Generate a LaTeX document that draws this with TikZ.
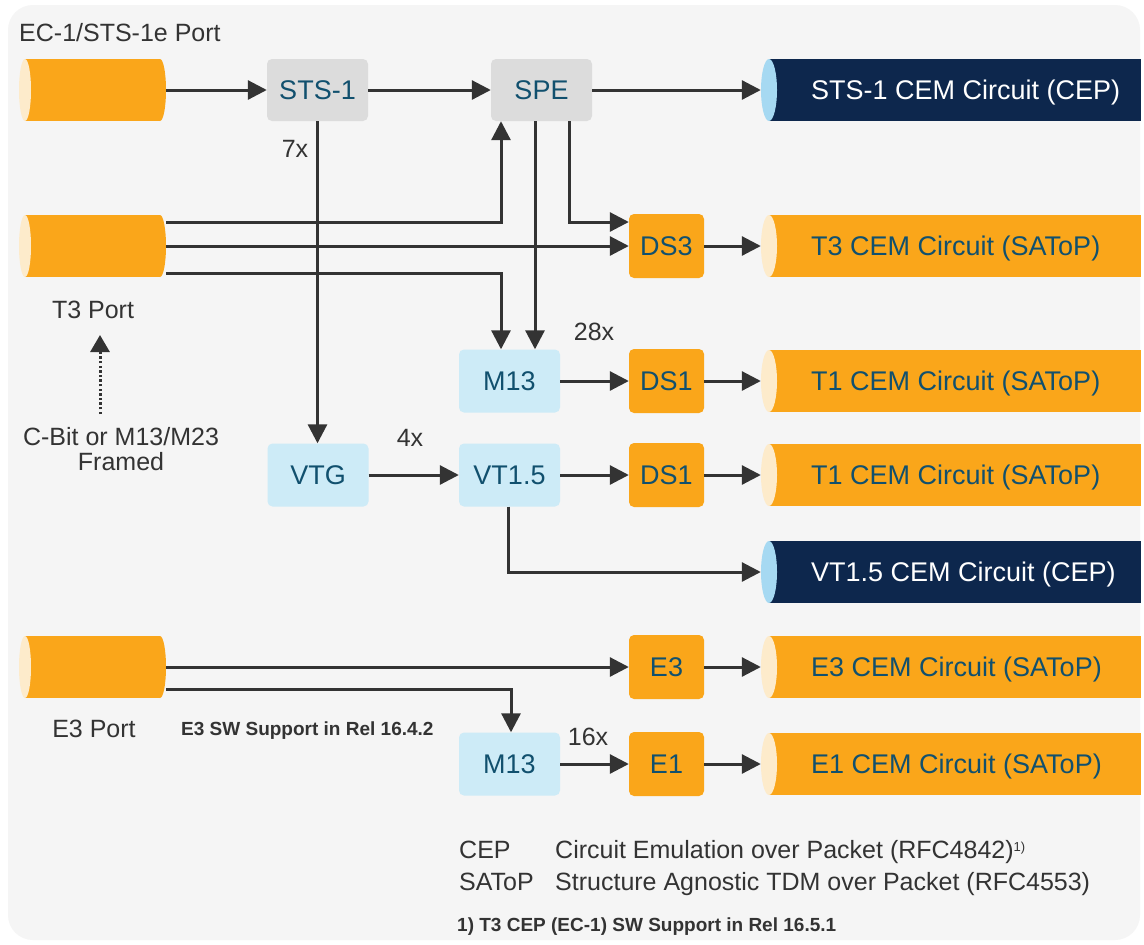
\documentclass[tikz,border=0pt]{standalone}
\usepackage{fontspec}
\setmainfont{Liberation Sans}
\usetikzlibrary{arrows.meta}
\definecolor{bgc}{HTML}{F5F5F5}
\definecolor{orng}{HTML}{FAA61A}
\definecolor{cream}{HTML}{FDEBCB}
\definecolor{navy}{HTML}{0D274D}
\definecolor{skyface}{HTML}{A6D9F2}
\definecolor{greybox}{HTML}{DCDCDC}
\definecolor{bluebox}{HTML}{CDEBF7}
\definecolor{teal}{HTML}{11506E}
\definecolor{linec}{HTML}{333333}
\definecolor{txtc}{HTML}{333333}
\newcommand\portcyl[2]{%
  \fill[orng] (25,#2-31) rectangle (160,#2+31);
  \fill[orng] (160,#2) ellipse [x radius=6, y radius=31];
  \fill[cream] (25,#2) ellipse [x radius=6, y radius=31];
  \node[name=#1, inner sep=0pt, minimum width=147pt, minimum height=62pt] at (92.5,#2) {};}
\newcommand\rcyl[6]{%
  \fill[#3] (769,#2-31) rectangle (1141,#2+31);
  \fill[#4] (769,#2) ellipse [x radius=8, y radius=31];
  \node[name=#1, inner sep=0pt, minimum width=380pt, minimum height=62pt] at (951,#2) {};
  \node[name=#1t, cyltxt, text=#5] at (811,#2) {#6};}
\begin{document}
\begin{tikzpicture}[x=1pt,y=-1pt,
  arr/.style={draw=linec, line width=3pt, -{Triangle[length=19pt,width=19pt]}},
  darr/.style={draw=linec, line width=3pt, dash pattern=on 2.4pt off 2.2pt, -{Triangle[length=17pt,width=19pt]}},
  boxbase/.style={rounded corners=5pt, inner sep=0pt, text=teal, font=\fontsize{27}{27}\selectfont, text height=19.5pt, text depth=0pt},
  gbox/.style={boxbase, fill=greybox, minimum width=101pt, minimum height=62pt},
  bbox/.style={boxbase, fill=bluebox, minimum width=101pt, minimum height=63pt},
  obox/.style={boxbase, fill=orng, minimum width=75pt, minimum height=64pt},
  cyltxt/.style={anchor=west, inner sep=0pt, font=\fontsize{27}{27}\selectfont, text height=19.5pt, text depth=0pt},
  lbl/.style={inner sep=0pt, text=txtc, font=\fontsize{25}{25}\selectfont, text height=18pt, text depth=0pt},
  lbl2/.style={inner sep=0pt, text=txtc, font=\fontsize{25}{25}\selectfont, align=center},
  boldlbl/.style={inner sep=0pt, text=txtc, font=\bfseries\fontsize{19}{19}\selectfont, text height=14pt, text depth=0pt}]
\useasboundingbox (0,0) rectangle (1144,945);
\fill[white] (0,0) rectangle (1144,945);
\fill[bgc, rounded corners=25pt] (8,5) rectangle (1140,940);

% ports
\portcyl{ec1}{90}
\portcyl{t3p}{246}
\portcyl{e3p}{667}

% right cylinders
\rcyl{stscem}{90}{navy}{skyface}{white}{STS-1 CEM Circuit (CEP)}
\rcyl{tthreecem}{246}{orng}{cream}{teal}{T3 CEM Circuit (SAToP)}
\rcyl{tonea}{381}{orng}{cream}{teal}{T1 CEM Circuit (SAToP)}
\rcyl{toneb}{475}{orng}{cream}{teal}{T1 CEM Circuit (SAToP)}
\rcyl{vtcem}{572}{navy}{skyface}{white}{VT1.5 CEM Circuit (CEP)}
\rcyl{ethreecem}{667}{orng}{cream}{teal}{E3 CEM Circuit (SAToP)}
\rcyl{eonecem}{764}{orng}{cream}{teal}{E1 CEM Circuit (SAToP)}

% boxes
\node[gbox] (sts1) at (317.5,90) {STS-1};
\node[gbox] (spe) at (541.5,90) {SPE};
\node[obox] (ds3) at (666.5,246) {DS3};
\node[bbox] (m13a) at (509.5,381) {M13};
\node[obox] (ds1a) at (666.5,381) {DS1};
\node[bbox] (vtg) at (318,475) {VTG};
\node[bbox] (vt15) at (509.5,475) {VT1.5};
\node[obox] (ds1b) at (666.5,475) {DS1};
\node[obox] (e3box) at (666.5,667) {E3};
\node[bbox] (m13b) at (509.5,764) {M13};
\node[obox] (e1box) at (666.5,764) {E1};

% labels
\node[lbl, anchor=west] (ec1lbl) at (19,32) {EC-1/STS-1e Port};
\node[lbl] (l7x) at (295,148) {7x};
\node[lbl] (t3lbl) at (93,309) {T3 Port};
\node[lbl2] (cbit) at (121,449) {C-Bit or M13/M23\\Framed};
\node[lbl] (l4x) at (410,437) {4x};
\node[lbl] (l28x) at (594,331) {28x};
\node[lbl] (e3lbl) at (94,728) {E3 Port};
\node[boldlbl, anchor=west] (e3sw) at (181,728) {E3 SW Support in Rel 16.4.2};
\node[lbl] (l16x) at (588,736) {16x};

% legend
\node[lbl, anchor=west] (cep) at (459,849) {CEP};
\node[lbl, anchor=west] (cepd) at (555,849) {Circuit Emulation over Packet (RFC4842)\raisebox{7pt}{\fontsize{13}{13}\selectfont 1)}};
\node[lbl, anchor=west] (satop) at (459,881) {SAToP};
\node[lbl, anchor=west] (satopd) at (555,881) {Structure Agnostic TDM over Packet (RFC4553)};
\node[boldlbl, anchor=west] (fn) at (457,924) {1) T3 CEP (EC-1) SW Support in Rel 16.5.1};

% connectors
\draw[arr] (ec1.east) -- (sts1.west);
\draw[arr] (sts1.east) -- (spe.west);
\draw[arr] (spe.east) -- (stscem.west);
\draw[arr] (sts1.south) -- (sts1.south |- vtg.north);
\draw[arr] ([yshift=24pt]t3p.east) -| ([xshift=-40.5pt]spe.south);
\draw[arr] (t3p.east) -- (ds3.west);
\draw[arr] ([yshift=-27pt]t3p.east) -| ([xshift=-8.5pt]m13a.north);
\draw[arr] ([xshift=-6.5pt]spe.south) -- ([xshift=25.5pt]m13a.north);
\draw[arr] ([xshift=27.5pt]spe.south) |- ([yshift=24pt]ds3.west);
\draw[arr] (ds3.east) -- (tthreecem.west);
\draw[arr] (m13a.east) -- (ds1a.west);
\draw[arr] (ds1a.east) -- (tonea.west);
\draw[arr] (vtg.east) -- (vt15.west);
\draw[arr] (vt15.east) -- (ds1b.west);
\draw[arr] (ds1b.east) -- (toneb.west);
\draw[arr] ([xshift=-1.5pt]vt15.south) |- (vtcem.west);
\draw[arr] (e3p.east) -- (e3box.west);
\draw[arr] (e3box.east) -- (ethreecem.west);
\draw[arr] ([yshift=-22pt]e3p.east) -| ([xshift=1.5pt]m13b.north);
\draw[arr] (m13b.east) -- (e1box.west);
\draw[arr] (e1box.east) -- (eonecem.west);
\coordinate (dotb) at (100,414);
\coordinate (dott) at (100,335);
\draw[darr] (dotb) -- (dott);
\end{tikzpicture}
\end{document}
